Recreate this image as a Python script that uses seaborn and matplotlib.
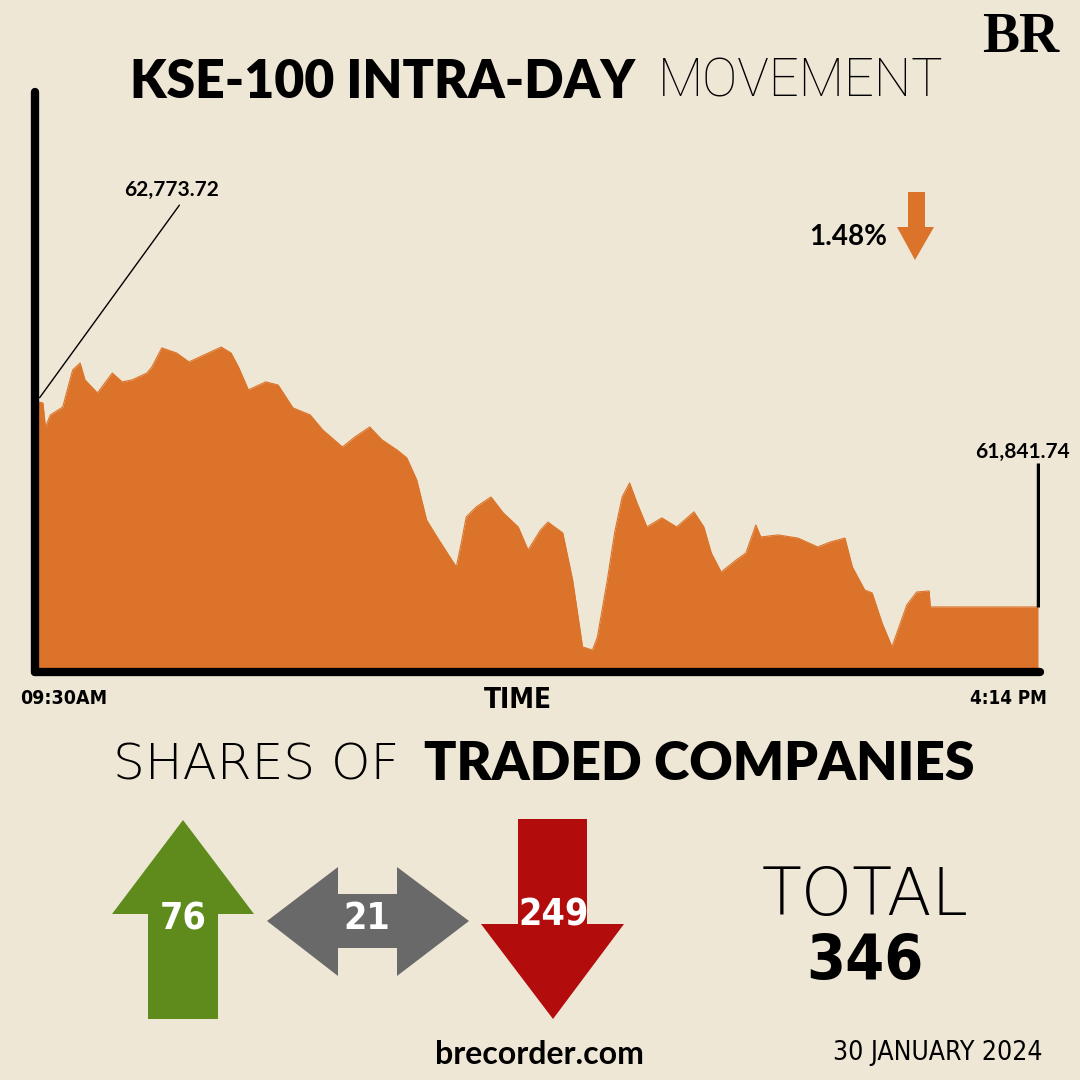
import numpy as np
import pandas as pd
import matplotlib.pyplot as plt
import seaborn as sns
from matplotlib.patches import Polygon

# intraday KSE-100 values (minutes after 09:30, index level)
minutes = [0, 2, 3, 5, 10, 14, 17, 19, 24, 30, 34, 38, 44, 46, 50, 56, 61, 67, 74, 78,
           81, 85, 92, 97, 103, 110, 115, 123, 128, 134, 139, 145, 149, 153, 157, 162,
           169, 171, 173, 177, 183, 188, 194, 198, 203, 206, 212, 216, 220, 224, 226,
           230, 233, 236, 239, 242, 246, 252, 258, 265, 269, 272, 276, 282, 286, 290,
           292, 299, 307, 315, 320, 326, 329, 334, 337, 341, 345, 347, 351, 355, 360,
           360.5, 404]
index_level = [62765, 62760, 62652, 62706, 62742, 62909, 62940, 62864, 62805, 62895,
               62855, 62864, 62895, 62922, 63008, 62985, 62945, 62976, 63012, 62985,
               62922, 62819, 62855, 62841, 62738, 62706, 62639, 62562, 62607, 62652,
               62594, 62549, 62513, 62414, 62233, 62143, 62022, 62130, 62247, 62292,
               62337, 62265, 62202, 62098, 62188, 62224, 62175, 61963, 61662, 61648,
               61707, 61963, 62179, 62337, 62400, 62310, 62202, 62243, 62202, 62270,
               62202, 62085, 61999, 62053, 62085, 62211, 62157, 62166, 62152, 62112,
               62134, 62152, 62022, 61918, 61905, 61770, 61662, 61725, 61851, 61909,
               61914, 61842, 61841.74]

prev_close = 62773.72
last_close = 61841.74
change_pct = "1.48%"
time_labels = ["09:30AM", "4:14 PM"]

advances = 76
unchanged = 21
declines = 249
total = 346
date_text = "30 JANUARY 2024"

bg = "#EFE7D6"
orange = "#DB742A"

df = pd.DataFrame({"minute": minutes, "level": index_level})

sns.set_theme(style="white", rc={"axes.facecolor": bg, "figure.facecolor": bg})
plt.rcParams["font.family"] = ["Lato", "DejaVu Sans"]

thin = ["Roboto", "DejaVu Sans"]
wide_thin = ["DejaVu Sans"]
narrow = dict(family="DejaVu Sans", fontstretch="condensed")

fig = plt.figure(figsize=(10.8, 10.8), dpi=100)

# chart area in pixels: x 35..1040, y 92..672
ax = fig.add_axes([35 / 1080, (1080 - 672) / 1080, 1005 / 1080, 580 / 1080])
ymin = 61549
sns.lineplot(data=df, x="minute", y="level", ax=ax, color=orange, linewidth=0.8)
ax.fill_between(df["minute"], df["level"], ymin, color=orange, linewidth=0)
ax.set_xlim(-3 * 0.404, 404 + 2 * 0.404)
ax.set_ylim(ymin, 64160)
ax.set_xlabel("")
ax.set_ylabel("")
ax.set_xticks([])
ax.set_yticks([])
for side in ["top", "right"]:
    ax.spines[side].set_visible(False)
for side in ["left", "bottom"]:
    ax.spines[side].set_color("black")
    ax.spines[side].set_linewidth(6)
    ax.spines[side].set_capstyle("round")

# annotation lines on start and end values
ax.annotate("", xy=(0, prev_close), xytext=(143 * 0.404, prev_close + 197 * 4.502),
            arrowprops=dict(arrowstyle="-", color="black", lw=1))
ax.plot([404, 404], [last_close, last_close + 144 * 4.502], color="black", lw=2.5,
        solid_capstyle="butt")

# overlay in pixel coordinates for text and icons
ov = fig.add_axes([0, 0, 1, 1], facecolor="none")
ov.set_xlim(0, 1080)
ov.set_ylim(1080, 0)
ov.axis("off")

ov.text(982, 38, "BR", fontsize=40, fontweight="bold", family="Liberation Serif",
        ha="left", va="center", color="black")

ov.text(130, 82, "KSE-100 INTRA-DAY", fontsize=37.3, fontweight="heavy", ha="left",
        va="center", color="black")
ov.text(658, 82, "MOVEMENT", fontsize=38, fontweight="light", family=thin, ha="left",
        va="center", color="black")

ov.text(172, 190, f"{prev_close:,.2f}", fontsize=15, fontweight="bold", ha="center",
        va="center", color="black")
ov.text(1070, 452, f"{last_close:,.2f}", fontsize=15, fontweight="bold", ha="right",
        va="center", color="black")

ov.text(887, 237, change_pct, fontsize=20, fontweight="bold", ha="right", va="center",
        color="black")
ov.add_patch(Polygon([(908, 192), (925, 192), (925, 227), (934, 227), (915, 260),
                      (897, 227), (908, 227)], closed=True, color=orange, lw=0))

ov.text(20, 699, time_labels[0], fontsize=14, fontweight="bold", ha="left", va="center",
        color="black", **narrow)
ov.text(1047, 699, time_labels[1], fontsize=13.5, fontweight="bold", ha="right",
        va="center", color="black", **narrow)
ov.text(518, 700, "TIME", fontsize=20, fontweight="bold", ha="center", va="center",
        color="black", **narrow)

ov.text(113, 765, "SHARES OF", fontsize=36, fontweight="light", family=wide_thin,
        ha="left", va="center", color="black")
ov.text(424, 765, "TRADED COMPANIES", fontsize=38.5, fontweight="heavy", ha="left",
        va="center", color="black")

# advance / unchanged / decline icons
ov.add_patch(Polygon([(183, 820), (254, 914), (218, 914), (218, 1019), (148, 1019),
                      (148, 914), (112, 914)], closed=True, color="#5E8B1C", lw=0))
ov.add_patch(Polygon([(267, 921), (338, 867), (338, 894), (397, 894), (397, 867),
                      (469, 921), (397, 976), (397, 948), (338, 948), (338, 976)],
                     closed=True, color="#696969", lw=0))
ov.add_patch(Polygon([(518, 819), (587, 819), (587, 924), (624, 924), (553, 1019),
                      (481, 924), (518, 924)], closed=True, color="#B30C0C", lw=0))

ov.text(183, 919, str(advances), fontsize=27, fontweight="bold", ha="center",
        va="center", color="white", **narrow)
ov.text(367, 919, str(unchanged), fontsize=27, fontweight="bold", ha="center",
        va="center", color="white", **narrow)
ov.text(554, 916, str(declines), fontsize=27, fontweight="bold", ha="center",
        va="center", color="white", **narrow)

ov.text(865, 897, "TOTAL", fontsize=47, fontweight="light", family=wide_thin,
        ha="center", va="center", color="black")
ov.text(865, 962, str(total), fontsize=45, fontweight="bold", ha="center", va="center",
        color="black", **narrow)

ov.text(539, 1054, "brecorder.com", fontsize=23, fontweight="bold", ha="center",
        va="center", color="black")
ov.text(938, 1053, date_text, fontsize=19, ha="center", va="center", color="black",
        **narrow)

fig.savefig("out.png", dpi=100, facecolor=bg)
